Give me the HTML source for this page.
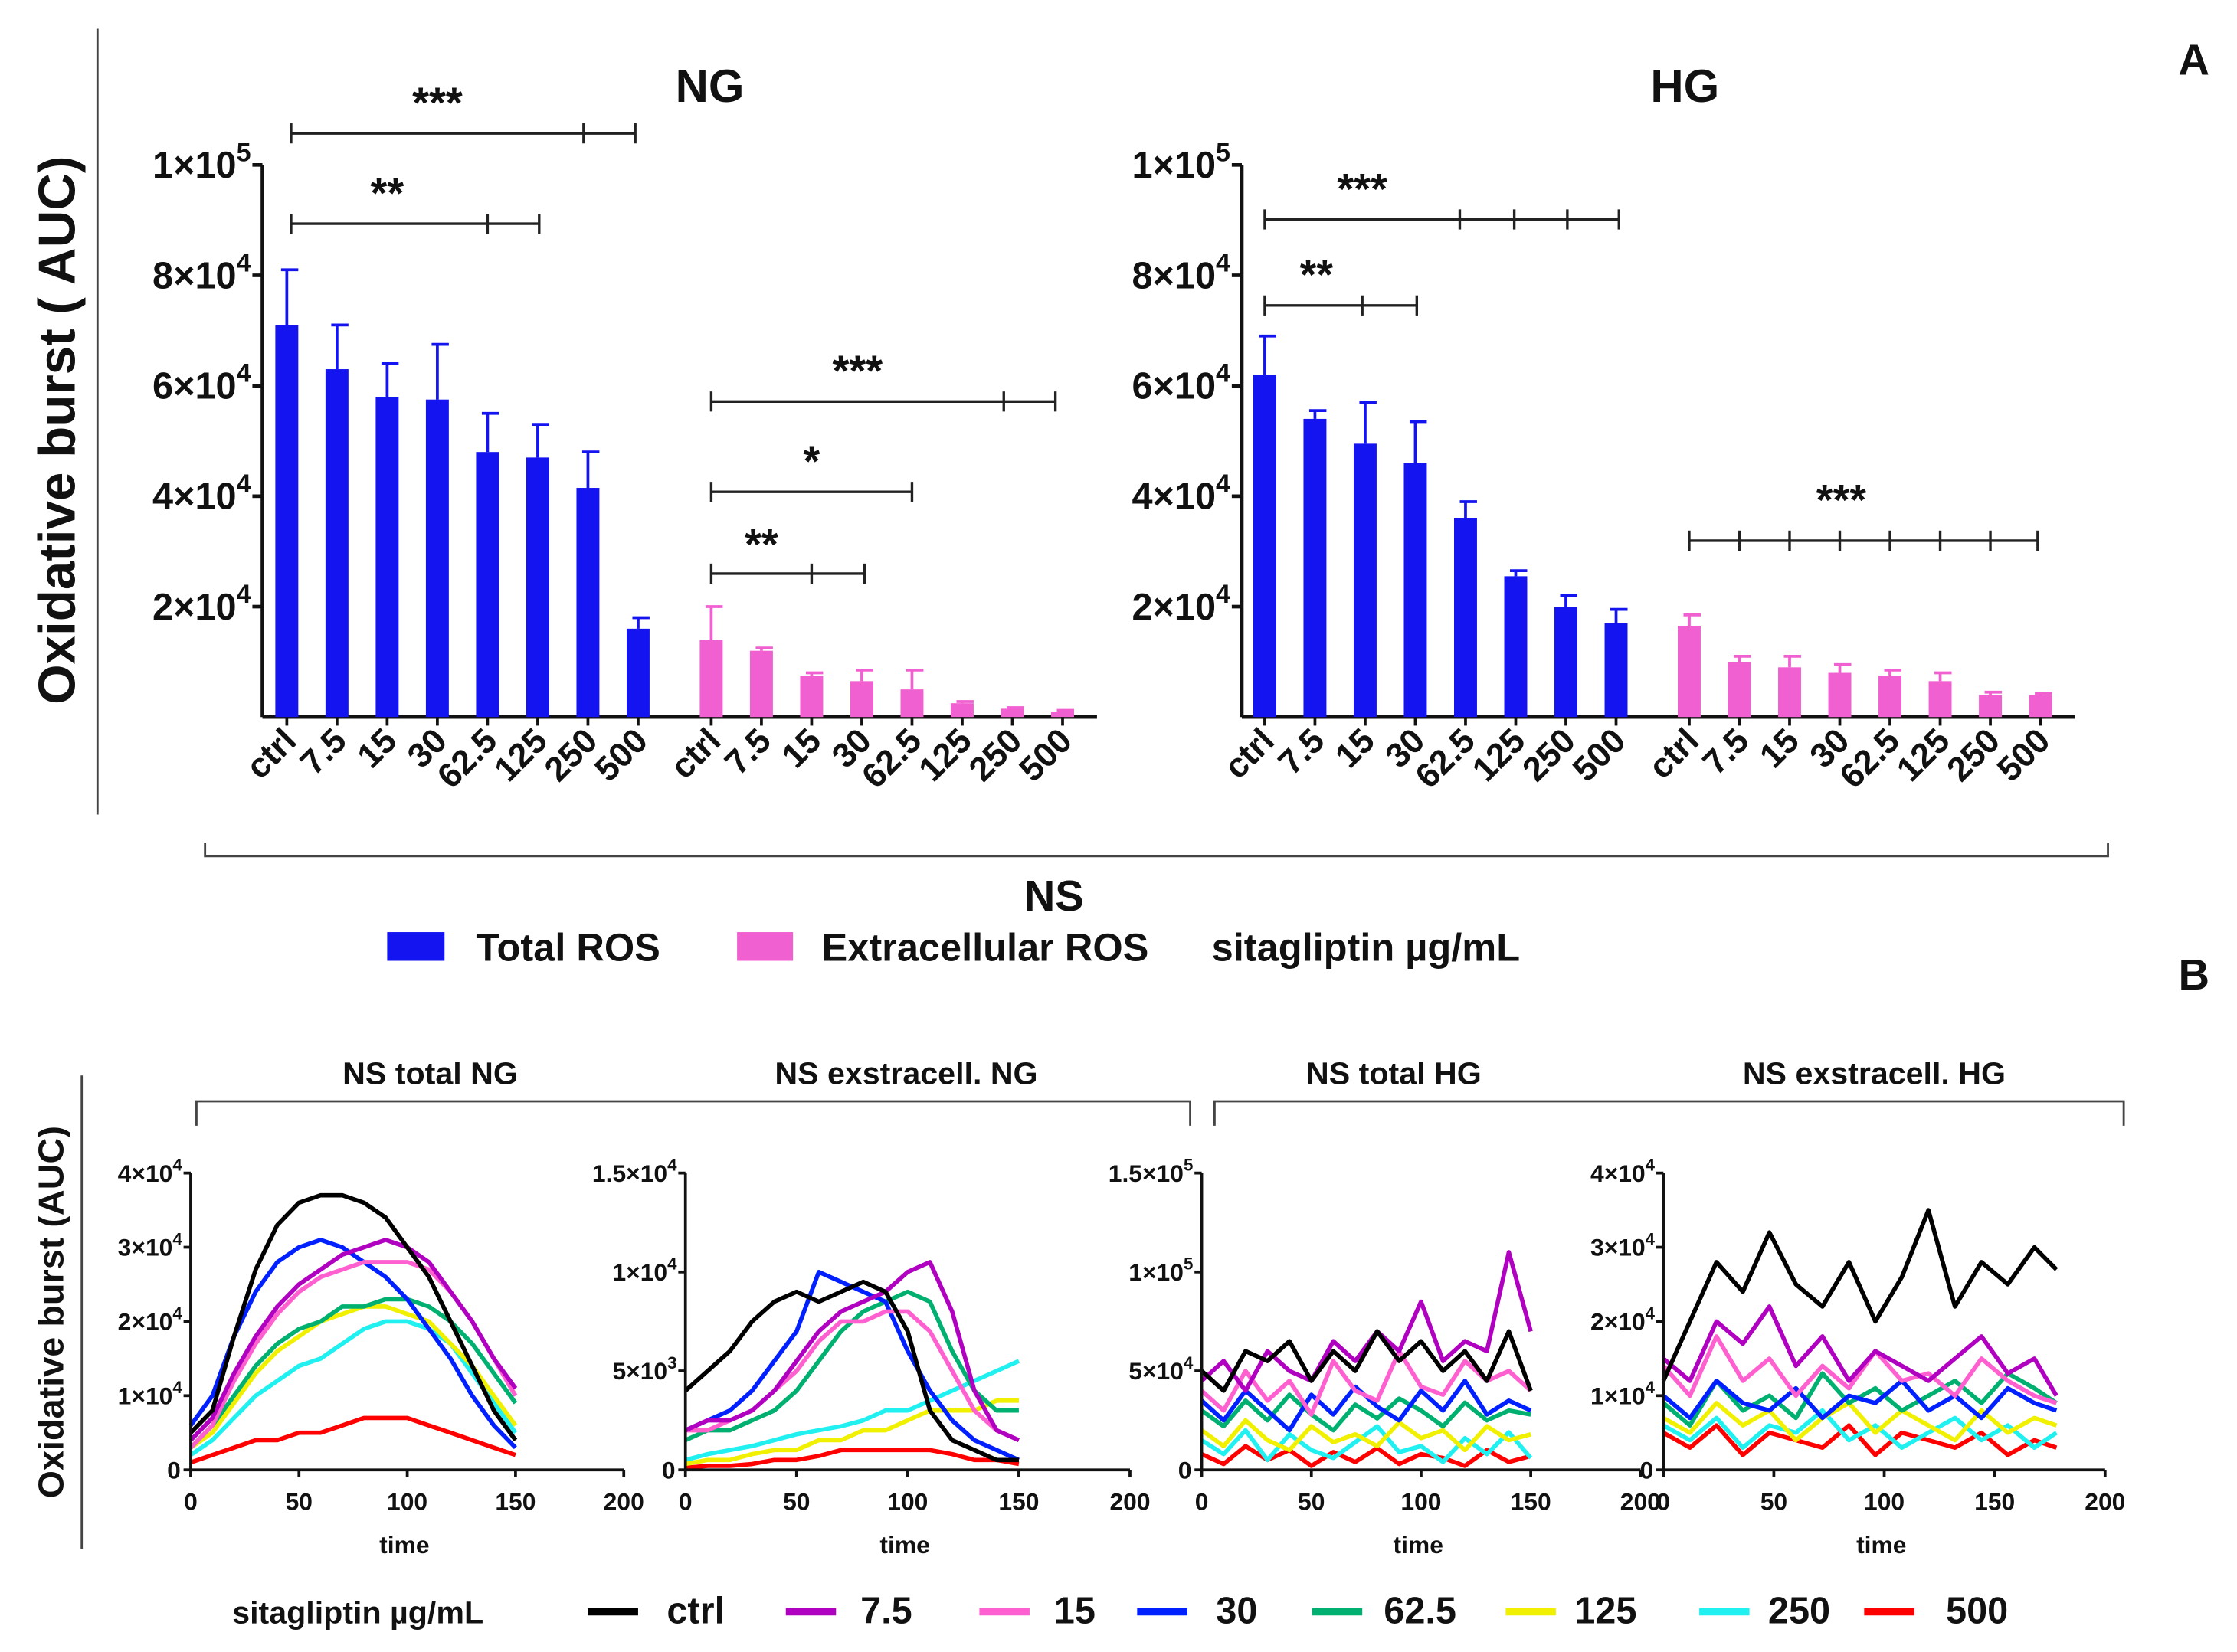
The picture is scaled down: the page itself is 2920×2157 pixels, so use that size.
<!DOCTYPE html>
<html><head><meta charset="utf-8"><style>
html,body{margin:0;padding:0;background:#fff;}
svg{display:block;font-family:"Liberation Sans",Arial,sans-serif;font-weight:bold;}
</style></head><body>
<svg id="fig" xmlns="http://www.w3.org/2000/svg" width="2920" height="2157" viewBox="0 0 1560 1152" preserveAspectRatio="none">
<rect width="1560" height="1152" fill="#fff"/>
</svg>
<script>
// ---------- Panel A data ----------
const catsA = ["ctrl","7.5","15","30","62.5","125","250","500"];
const ngTotal = [71000,63000,58000,57500,48000,47000,41500,16000];
const ngTotalErr = [10000,8000,6000,10000,7000,6000,6500,2000];
const ngExtra = [14000,12000,7500,6500,5000,2500,1500,1000];
const ngExtraErr = [6000,500,500,2000,3500,300,200,200];
const hgTotal = [62000,54000,49500,46000,36000,25500,20000,17000];
const hgTotalErr = [7000,1500,7500,7500,3000,1000,2000,2500];
const hgExtra = [16500,10000,9000,8000,7500,6500,4000,4000];
const hgExtraErr = [2000,1000,2000,1500,1000,1500,500,300];
const ticksA = [2,4,6,8];

// ---------- Panel B data (values ×1000) ----------
const seriesNames = ["500","250","125","62.5","30","15","7.5","ctrl"];
const seriesColors = ["#ff0000","#20f0f0","#f0f000","#00b070","#0020ff","#ff60d0","#b000c0","#000000"];
const timeB = [0,10,20,30,40,50,60,70,80,90,100,110,120,130,140,150];
const timeB4 = [0,12,24,36,48,60,72,84,96,108,120,132,144,156,168,178];
const c1 = [
 [1,2,3,4,4,5,5,6,7,7,7,6,5,4,3,2],
 [2,4,7,10,12,14,15,17,19,20,20,19,17,13,9,5],
 [3,5,9,13,16,18,20,21,22,22,21,20,17,14,10,6],
 [3,6,10,14,17,19,20,22,22,23,23,22,20,17,13,9],
 [6,10,18,24,28,30,31,30,28,26,23,19,15,10,6,3],
 [3,6,12,17,21,24,26,27,28,28,28,27,24,20,15,10],
 [4,7,13,18,22,25,27,29,30,31,30,28,24,20,15,11],
 [5,8,18,27,33,36,37,37,36,34,30,26,20,14,8,4]];
const c2 = [
 [0.1,0.2,0.2,0.3,0.5,0.5,0.7,1,1,1,1,1,0.8,0.5,0.5,0.3],
 [0.5,0.8,1,1.2,1.5,1.8,2,2.2,2.5,3,3,3.5,4,4.5,5,5.5],
 [0.3,0.5,0.5,0.8,1,1,1.5,1.5,2,2,2.5,3,3,3,3.5,3.5],
 [1.5,2,2,2.5,3,4,5.5,7,8,8.5,9,8.5,6,4,3,3],
 [2,2.5,3,4,5.5,7,10,9.5,9,8.5,6,4,2.5,1.5,1,0.5],
 [2,2,2.5,3,4,5,6.5,7.5,7.5,8,8,7,5,3,2,1.5],
 [2,2.5,2.5,3,4,5.5,7,8,8.5,9,10,10.5,8,4,2,1.5],
 [4,5,6,7.5,8.5,9,8.5,9,9.5,9,7,3,1.5,1,0.5,0.5]];
const c3 = [
 [8,3,12,5,10,2,9,4,11,3,8,6,2,10,4,7],
 [15,8,20,5,18,10,6,14,22,9,12,4,16,8,19,6],
 [20,12,25,15,10,22,14,18,12,24,16,20,10,22,15,18],
 [30,22,35,25,38,28,20,33,26,36,30,22,34,25,30,28],
 [35,25,40,30,20,38,28,42,32,25,40,30,45,28,35,30],
 [40,30,50,35,45,28,55,40,35,60,42,38,55,45,50,40],
 [45,55,40,60,50,45,65,55,70,60,85,55,65,60,110,70],
 [50,40,60,55,65,45,60,50,70,55,65,50,60,45,70,40]];
const c4 = [
 [5,3,6,2,5,4,3,6,2,5,4,3,5,2,4,3],
 [6,4,7,3,6,5,8,4,6,3,5,7,4,6,3,5],
 [7,5,9,6,8,4,7,9,5,8,6,4,8,5,7,6],
 [9,6,12,8,10,7,13,9,11,8,10,12,9,13,11,9],
 [10,7,12,9,8,11,7,10,9,12,8,10,7,11,9,8],
 [14,10,18,12,15,10,14,11,16,12,13,10,15,12,10,9],
 [15,12,20,17,22,14,18,12,16,14,12,15,18,13,15,10],
 [12,20,28,24,32,25,22,28,20,26,35,22,28,25,30,27]];

const NS = "http://www.w3.org/2000/svg";
const svg = document.getElementById('fig');
function mk(tag, attrs, parent){
  const e = document.createElementNS(NS, tag);
  for (const k in attrs) e.setAttribute(k, attrs[k]);
  (parent||svg).appendChild(e);
  return e;
}
function txt(x,y,s,size,anchor,parent){
  const t = mk('text',{x:x,y:y,'font-size':size,'text-anchor':anchor||'middle',fill:'#111'},parent);
  t.textContent = s;
  return t;
}
function sci(x,y,mant,exp,size,parent){
  const t = mk('text',{x:x,y:y,'font-size':size,'text-anchor':'end',fill:'#111'},parent);
  const a = document.createElementNS(NS,'tspan'); a.textContent = mant + "×10"; t.appendChild(a);
  const b = document.createElementNS(NS,'tspan'); b.setAttribute('dy', -size*0.45); b.setAttribute('font-size', size*0.7); b.textContent = exp; t.appendChild(b);
  return t;
}
function line(x1,y1,x2,y2,w,c,parent){ return mk('line',{x1:x1,y1:y1,x2:x2,y2:y2,stroke:c||'#222','stroke-width':w||1.5},parent); }

// ---------- Panel A ----------
const y0A = 500, pxPerA = 385/100000;
const yA = v => y0A - v*pxPerA;
function barChart(name, axX, axEnd, blueX0, pinkX0, blue, blueErr, pink, pinkErr){
  const g = mk('g',{});
  
  
  line(axX,115,axX,y0A,2.5,'#111',g);
  line(axX,y0A,axEnd,y0A,2.5,'#111',g);
  ticksA.forEach(t=>{ line(axX-7,yA(t*10000),axX,yA(t*10000),2.5,'#111',g); sci(axX-8,yA(t*10000)+9,t,"4",26,g); });
  line(axX-7,yA(100000),axX,yA(100000),2.5,'#111',g); sci(axX-8,yA(100000)+9,1,"5",26,g);
  const drawSet=(x0,vals,errs,col,lbl)=>{
    vals.forEach((v,i)=>{
      const cx = x0 + i*35;
      const b = mk('rect',{x:cx-8,y:yA(v),width:16,height:y0A-yA(v),fill:col},g);
      
      
      line(cx,yA(v),cx,yA(v+errs[i]),2,col,g);
      line(cx-4,yA(v+errs[i]),cx+8,yA(v+errs[i]),2,col,g);
      line(cx,y0A,cx,y0A+6,2,'#111',g);
      const t = mk('text',{x:cx+8,y:y0A+18,'font-size':24,'text-anchor':'end',fill:'#111',transform:'rotate(-45 '+(cx+8)+' '+(y0A+18)+')'},g);
      t.textContent = catsA[i];
    });
  };
  drawSet(blueX0, blue, blueErr, '#1414f0', 'total-ros');
  drawSet(pinkX0, pink, pinkErr, '#f060d0', 'extracellular-ros');
  return g;
}
barChart('ng-bar-chart',183,765,200,496,ngTotal,ngTotalErr,ngExtra,ngExtraErr);
barChart('hg-bar-chart',866,1447,882,1178,hgTotal,hgTotalErr,hgExtra,hgExtraErr);

function bracket(x1,x2,y,ticks,stars,sx,sy){
  line(x1,y,x2,y,1.8);
  [x1,x2].concat(ticks).forEach(x=>line(x,y-7,x,y+7,1.8));
  txt(sx,sy+12,stars,30);
}
bracket(203,443,93,[407],'***',305,70);
bracket(203,376,156,[340],'**',270,133);
bracket(496,736,280,[700],'***',598,257);
bracket(496,636,343,[],'*',566,320);
bracket(496,603,400,[566],'**',531,378);
bracket(882,1129,153,[1018,1056,1093],'***',950,130);
bracket(882,988,213,[950],'**',918,190);
bracket(1178,1421,377,[1213,1248,1283,1318,1353,1388],'***',1284,347);

let t;
t = txt(495,71,'NG',32);  
t = txt(1175,71,'HG',32);  
t = txt(1530,52,'A',30);  
t = txt(1530,690,'B',30);  
t = mk('text',{x:52,y:300,'font-size':36,'text-anchor':'middle',fill:'#111',transform:'rotate(-90 52 300)'});
t.textContent = 'Oxidative burst ( AUC)';
 
line(68,20,68,568,1.5,'#444');
mk('path',{d:'M143 588 L143 597 L1470 597 L1470 588',fill:'none',stroke:'#444','stroke-width':1.5});
t = txt(735,635,'NS',30);  
let r = mk('rect',{x:270,y:650,width:40,height:20,fill:'#1414f0'});  
t = txt(332,670,'Total ROS',27,'start');  
r = mk('rect',{x:514,y:650,width:39,height:20,fill:'#f060d0'});  
t = txt(573,670,'Extracellular ROS',27,'start');  
t = txt(845,670,'sitagliptin µg/mL',27,'start');  

// ---------- Panel B ----------
const y0B = 1025, yTopB = 818;
function lineChart(name, xL, xR, xMax, yMax, yTicks, times, data){
  const g = mk('g',{});
  
  
  const xs = v => xL + v/xMax*(xR-xL);
  const ys = v => y0B - v/yMax*(y0B-yTopB);
  data.forEach((ser,si)=>{
    const pts = ser.map((v,i)=>xs(times[i]).toFixed(1)+','+ys(v).toFixed(1)).join(' ');
    const p = mk('polyline',{points:pts,fill:'none',stroke:seriesColors[si],'stroke-width':3,'stroke-linejoin':'round'},g);
    
    
  });
  line(xL,yTopB,xL,y0B,2,'#111',g);
  line(xL,y0B,xR,y0B,2,'#111',g);
  yTicks.forEach(tk=>{
    line(xL-5,ys(tk[0]),xL,ys(tk[0]),2,'#111',g);
    if (tk[2]===null) txt(xL-7,ys(tk[0])+6,tk[1],17,'end',g);
    else sci(xL-6,ys(tk[0])+6,tk[1],tk[2],17,g);
  });
  [0,50,100,150,200].forEach(v=>{ line(xs(v),y0B,xs(v),y0B+5,2,'#111',g); txt(xs(v),y0B+28,String(v),17,'middle',g); });
  txt((xL+xR)/2-2,y0B+58,'time',17,'middle',g);
}
lineChart('chart-ns-total-ng',133,435,200,40,[[0,'0',null],[10,1,'4'],[20,2,'4'],[30,3,'4'],[40,4,'4']],timeB,c1);
lineChart('chart-ns-extracell-ng',478,788,200,15,[[0,'0',null],[5,5,'3'],[10,1,'4'],[15,1.5,'4']],timeB,c2);
lineChart('chart-ns-total-hg',838,1144,200,150,[[0,'0',null],[50,5,'4'],[100,1,'5'],[150,1.5,'5']],timeB,c3);
lineChart('chart-ns-extracell-hg',1160,1468,200,40,[[0,'0',null],[10,1,'4'],[20,2,'4'],[30,3,'4'],[40,4,'4']],timeB4,c4);

[['NS total NG',300],['NS exstracell. NG',632],['NS total HG',972],['NS exstracell. HG',1307]].forEach((h,i)=>{
  const e = txt(h[1],756,h[0],22);
  
  
});
mk('path',{d:'M137 785 L137 768 L830 768 L830 785',fill:'none',stroke:'#444','stroke-width':1.5});
mk('path',{d:'M847 785 L847 768 L1481 768 L1481 785',fill:'none',stroke:'#444','stroke-width':1.5});
t = mk('text',{x:44,y:915,'font-size':25,'text-anchor':'middle',fill:'#111',transform:'rotate(-90 44 915)'});
t.textContent = 'Oxidative burst (AUC)';
 
line(57,750,57,1080,1.5,'#444');

t = txt(162,1132,'sitagliptin µg/mL',22,'start');  
const legB = [['ctrl','#000000',410,465],['7.5','#b000c0',548,600],['15','#ff60d0',683,735],['30','#0020ff',793,848],['62.5','#00b070',915,965],['125','#f0f000',1050,1098],['250','#20f0f0',1185,1233],['500','#ff0000',1300,1357]];
legB.forEach(l=>{
  const g = mk('g',{});
  
  
  line(l[2],1124,l[2]+35,1124,5,l[1],g);
  txt(l[3],1132,l[0],26,'start',g);
});
</script>
</body></html>
